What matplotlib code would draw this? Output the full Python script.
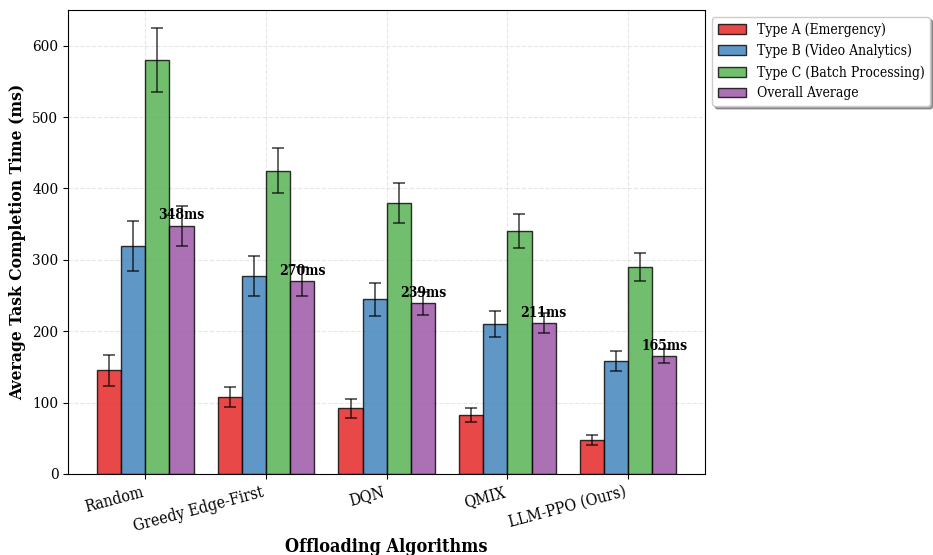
# Task completion time per offloading algorithm, grouped by task type

import matplotlib.pyplot as plt
import numpy as np

plt.rcParams['font.family'] = 'DejaVu Serif'
plt.rcParams['font.stretch'] = 'condensed'

# --- Data ---
algorithms = ['Random', 'Greedy Edge-First', 'DQN', 'QMIX', 'LLM-PPO (Ours)']
series_names = ['Type A (Emergency)', 'Type B (Video Analytics)',
                'Type C (Batch Processing)', 'Overall Average']

type_a = [145, 108, 92, 83, 47]
type_b = [320, 278, 245, 210, 158]
type_c = [580, 425, 380, 340, 290]
overall = [348, 270, 239, 211, 165]

err_a = [22, 14, 13, 10, 7]
err_b = [35, 28, 23, 18, 14]
err_c = [45, 32, 28, 24, 19]
err_overall = [28, 20, 16, 14, 10]

colors = ['#e41a1c', '#377eb8', '#4daf4a', '#984ea3']

# --- Plot ---
fig, ax = plt.subplots(figsize=(9.33, 5.55), dpi=100)
fig.subplots_adjust(left=0.073, right=0.756, top=0.982, bottom=0.146)

x = np.arange(len(algorithms))
width = 0.2
values = [type_a, type_b, type_c, overall]
errors = [err_a, err_b, err_c, err_overall]

for i, (vals, errs, name, c) in enumerate(zip(values, errors, series_names, colors)):
    offset = (i - 1.5) * width
    ax.bar(x + offset, vals, width, yerr=errs, label=name, color=c, alpha=0.8,
           edgecolor='black', linewidth=1, capsize=4,
           error_kw=dict(ecolor='black', elinewidth=1.2, capthick=1.2, alpha=0.7))

# value labels on the overall average bars
for xi, v in zip(x + 1.5 * width, overall):
    ax.text(xi, v + 5, f'{v}ms', ha='center', va='bottom',
            fontsize=10, fontweight='bold')

ax.set_xlabel('Offloading Algorithms', fontsize=13, fontweight='bold', labelpad=2)
ax.set_ylabel('Average Task Completion Time (ms)', fontsize=12.5, fontweight='bold')
ax.set_xticks(x)
ax.set_xticklabels(algorithms, rotation=15, ha='right', fontsize=11.5)
ax.tick_params(axis='y', labelsize=11)
ax.set_ylim(0, 650)
ax.grid(True, linestyle='--', alpha=0.3)
ax.set_axisbelow(True)
ax.legend(loc='upper left', bbox_to_anchor=(1.0, 1), fontsize=10, shadow=True)

plt.savefig('out.png', dpi=100)
plt.close()
